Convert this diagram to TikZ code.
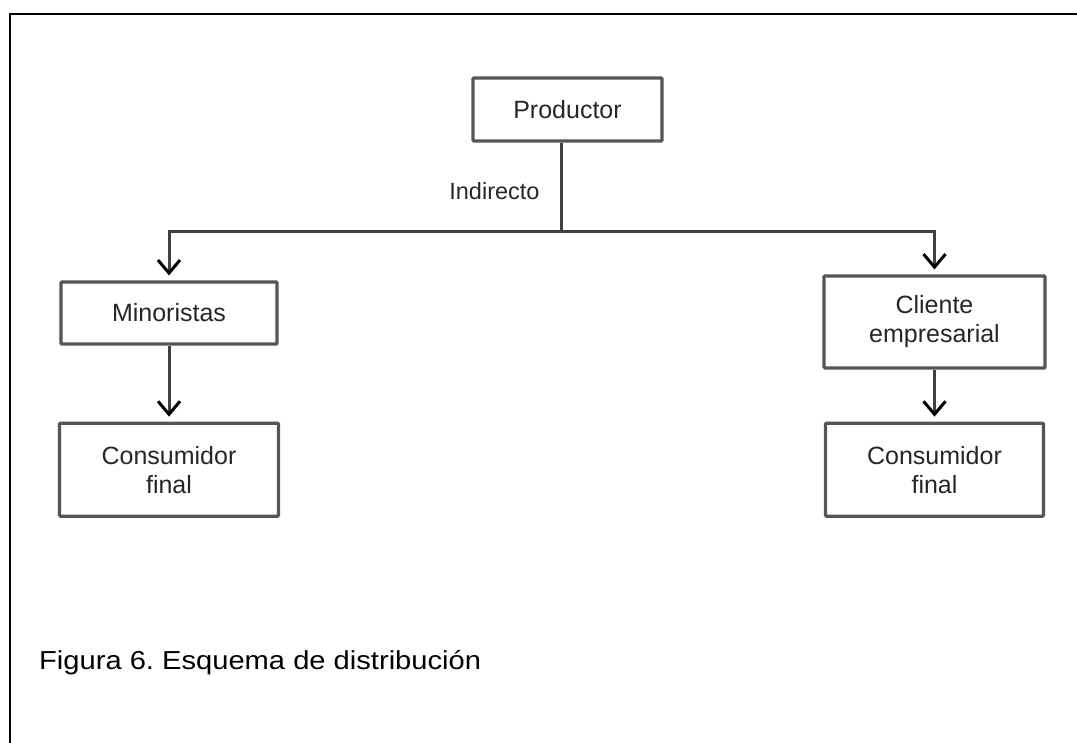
\documentclass[tikz,border=0pt]{standalone}
\usepackage{fontspec}
\setmainfont{Liberation Sans}
\newfontfamily\capfont[FakeStretch=1.12]{Liberation Sans}
\usetikzlibrary{arrows.meta, positioning, calc}
\definecolor{lnegray}{RGB}{65,65,65}
\definecolor{boxgray}{RGB}{85,85,85}
\frenchspacing

\begin{document}
\begin{tikzpicture}[x=1pt, y=1pt,
  box/.style={rectangle, draw=boxgray, line width=3.2pt, rounded corners=1pt, align=center, text=black!85, font=\fontsize{25}{29}\selectfont, inner sep=0pt},
  arr/.style={-{Straight Barb[length=13pt, width=22pt, line width=3pt, black]}, draw=lnegray, line width=3pt, shorten >=5pt},
  lne/.style={draw=lnegray, line width=3pt}
]
\useasboundingbox (0,0) rectangle (1077,743);
% frame
\coordinate (fbl) at (10,0);
\coordinate (ftl) at (10,729);
\coordinate (ftr) at (1077,729);
\draw[line width=2.5pt, line cap=rect] (fbl) -- (ftl) -- (ftr);
% nodes
\node[box, minimum width=189pt, minimum height=63pt] (prod) at (567.5,633.5) {Productor};
\node[box, minimum width=216pt, minimum height=62pt] (mino) at (169,430) {Minoristas};
\node[box, minimum width=221pt, minimum height=92pt] (clie) at (934.5,421) {Cliente\\empresarial};
\node[box, minimum width=219pt, minimum height=93pt, below=76pt of mino.south, anchor=north] (consa) {Consumidor\\final};
\node[box, minimum width=218pt, minimum height=93pt] (consb) at (consa -| clie) {Consumidor\\final};
\coordinate (split) at (561,511);
% connectors
\draw[lne] (split |- prod.south) -- node[left=20pt, pos=0.54, text=black!85, font=\fontsize{23.5}{27}\selectfont, inner sep=0pt] (indir) {Indirecto} (split);
\draw[arr] (split) -| (mino.north);
\draw[arr] (split) -| (clie.north);
\draw[arr] (mino.south) -- (mino.south |- consa.north);
\draw[arr] (clie.south) -- (clie.south |- consb.north);
% caption
\node[anchor=west, inner sep=0pt, font=\capfont\fontsize{26}{30}\selectfont] (cap) at (39,80) {Figura 6. Esquema de distribución};
\end{tikzpicture}
\end{document}
